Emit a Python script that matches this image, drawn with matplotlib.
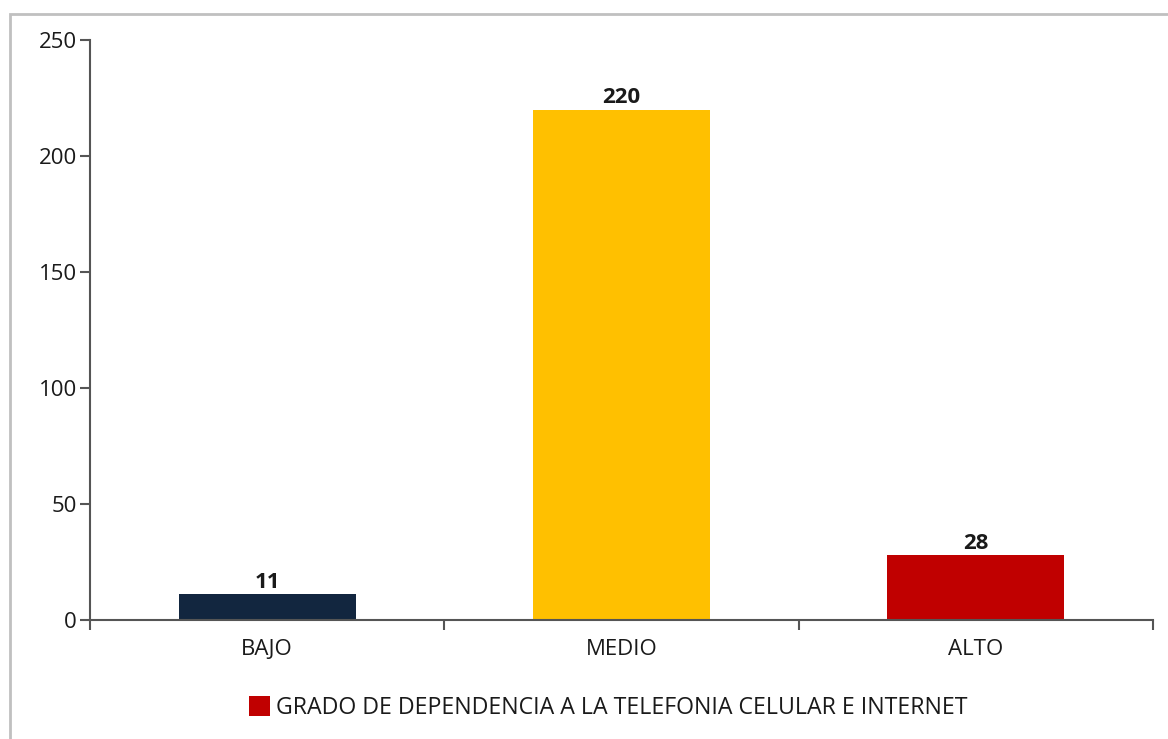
import matplotlib
matplotlib.use("Agg")
import matplotlib.pyplot as plt
from matplotlib.patches import Patch, Rectangle

categories = ["BAJO", "MEDIO", "ALTO"]
values = [11, 220, 28]
colors = ["#12263F", "#FFC000", "#C00000"]
legend_label = "GRADO DE DEPENDENCIA A LA TELEFONIA CELULAR E INTERNET"
yticks = [0, 50, 100, 150, 200, 250]

plt.rcParams['font.family'] = ['Open Sans', 'DejaVu Sans']
FS = 16

W, H = 1168, 739
fig = plt.figure(figsize=(W/100, H/100), dpi=100)
ax = fig.add_axes([90/W, 1-620/H, (1153-90)/W, (620-40)/H])

x = list(range(len(categories)))
bars = ax.bar(x, values, width=0.5, color=colors, zorder=2)
for xi, v in zip(x, values):
    ax.annotate(str(v), (xi, v), xytext=(0, 1), textcoords="offset points",
                ha="center", va="bottom", fontsize=FS, fontweight="bold", color="#1a1a1a")

ax.set_xlim(-0.5, len(categories)-0.5)
ax.set_ylim(0, 250)
ax.set_yticks(yticks)
ax.set_yticklabels([str(t) for t in yticks])
ax.set_xticks(x)
ax.set_xticklabels(categories)
ax.tick_params(axis="x", length=0, pad=14, labelsize=FS, colors="#1a1a1a")
ax.set_xticks([i-0.5 for i in range(len(categories)+1)], minor=True)
ax.tick_params(axis="x", which="minor", length=7, width=1.5, color="#555555", direction="out")
ax.tick_params(axis="y", length=7.5, width=1.5, color="#555555", labelsize=FS, labelcolor="#1a1a1a", pad=2)
for s in ["top", "right"]:
    ax.spines[s].set_visible(False)
for s in ["left", "bottom"]:
    ax.spines[s].set_color("#555555")
    ax.spines[s].set_linewidth(1.5)

handle = Patch(facecolor=colors[2], edgecolor="none")
fig.legend([handle], [legend_label], loc="center", bbox_to_anchor=(608/W, 1-708/H),
           frameon=False, fontsize=16.7, handlelength=0.9, handleheight=0.9, handletextpad=0.25,
           labelcolor="#1a1a1a")

border = Rectangle((10/W, -0.1), 1.2, 1-14/H+0.1, transform=fig.transFigure,
                   fill=False, edgecolor="#C0C0C0", linewidth=2, clip_on=False)
fig.patches.append(border)

fig.savefig("out.png", dpi=100)
